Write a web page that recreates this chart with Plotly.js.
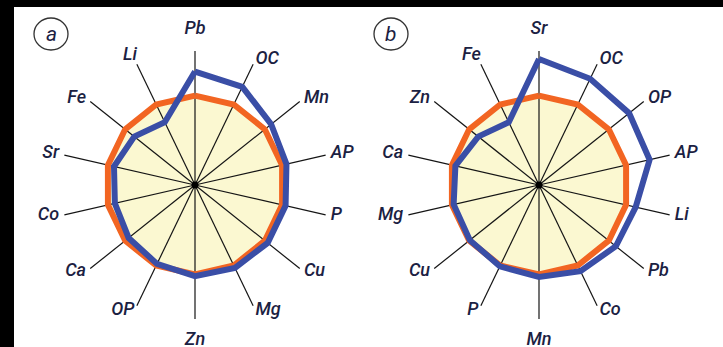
<!DOCTYPE html>
<html>
<head>
<meta charset="utf-8">
<script src="https://cdn.plot.ly/plotly-3.0.1.min.js"></script>
<style>
  html, body { margin: 0; padding: 0; background: #000; width: 723px; height: 347px; overflow: hidden; }
  #chart { position: absolute; left: 14px; top: 7px; width: 709px; height: 340px; background: #fff; }
</style>
</head>
<body>
<div id="chart"></div>
<script>
// Panel a: element axes, clockwise from the top
const elementsA = ['Pb', 'OC', 'Mn', 'AP', 'P', 'Cu', 'Mg', 'Zn', 'OP', 'Ca', 'Co', 'Sr', 'Fe', 'Li'];
const baselineA = [1, 1, 1, 1, 1, 1, 1, 1, 1, 1, 1, 1, 1, 1];
const sampleA   = [1.27, 1.22, 1.09, 1.05, 1.04, 1.04, 1.03, 1.02, 0.98, 0.95, 0.92, 0.93, 0.87, 0.78];

// Panel b: element axes, clockwise from the top
const elementsB = ['Sr', 'OC', 'OP', 'AP', 'Li', 'Pb', 'Co', 'Mn', 'P', 'Cu', 'Mg', 'Ca', 'Zn', 'Fe'];
const baselineB = [1, 1, 1, 1, 1, 1, 1, 1, 1, 1, 1, 1, 1, 1];
const sampleB   = [1.41, 1.32, 1.29, 1.27, 1.11, 1.10, 1.07, 1.03, 1.01, 0.99, 0.98, 0.96, 0.87, 0.78];

const panelLetters = ['a', 'b'];
const spokeLength = 1.5;
const radialMax = 1.8;

const W = 709, H = 340;
const ink = '#1b2142';
const labelFont = { family: 'Roboto, Liberation Sans, sans-serif', size: 18, color: ink, style: 'italic', weight: 500 };

const close = arr => arr.concat([arr[0]]);

// Axis names sit just past the spoke ends: above/below for the vertical spokes,
// to the outer side for the others.
function labelPosition(i, n) {
  const deg = i * 360 / n;
  if (deg === 0) return 'top center';
  if (deg === 180) return 'bottom center';
  if (deg < 180) return 'middle right';
  if (deg > 320) return 'top left';
  return 'middle left';
}
function labelRadius(i, n) {
  const deg = i * 360 / n;
  if (deg === 0 || deg === 180) return spokeLength + 0.14;
  if (deg > 320) return spokeLength;
  return spokeLength + 0.06;
}

function panelTraces(cats, base, sample, subplot) {
  const n = cats.length;
  const spokeR = [], spokeT = [];
  cats.forEach(c => { spokeR.push(0, spokeLength, null); spokeT.push(c, c, null); });
  const common = { type: 'scatterpolar', subplot: subplot, hoverinfo: 'skip', showlegend: false, cliponaxis: false };
  return [
    Object.assign({}, common, { r: close(base), theta: close(cats), mode: 'lines', fill: 'toself',
      fillcolor: '#fbf8d1', line: { color: 'rgba(0,0,0,0)', width: 0 } }),
    Object.assign({}, common, { r: spokeR, theta: spokeT, mode: 'lines', connectgaps: false,
      line: { color: '#151515', width: 1.2 } }),
    Object.assign({}, common, { r: close(base), theta: close(cats), mode: 'lines',
      line: { color: '#f26522', width: 6 } }),
    Object.assign({}, common, { r: close(sample), theta: close(cats), mode: 'lines',
      line: { color: '#3a4ea6', width: 6 } }),
    Object.assign({}, common, { r: [0], theta: [cats[0]], mode: 'markers',
      marker: { color: '#000', size: 7 } }),
    Object.assign({}, common, { r: cats.map((c, i) => labelRadius(i, n)), theta: cats, mode: 'text',
      text: cats, textposition: cats.map((c, i) => labelPosition(i, n)), textfont: labelFont })
  ];
}

// cx, cy: centre in px; R: pixel length of a spoke
function polarLayout(cats, cx, cy, R) {
  const D = R * radialMax / spokeLength;
  return {
    domain: { x: [(cx - D) / W, (cx + D) / W], y: [(H - cy - D) / H, (H - cy + D) / H] },
    bgcolor: 'rgba(0,0,0,0)',
    radialaxis: { visible: false, range: [0, radialMax] },
    angularaxis: {
      type: 'category', categoryorder: 'array', categoryarray: cats,
      direction: 'clockwise', rotation: 90,
      showgrid: false, showline: false, ticks: '', showticklabels: false
    }
  };
}

function badge(cx, cy, letter) {
  return {
    shape: { type: 'circle', xref: 'paper', yref: 'paper',
      x0: (cx - 17) / W, x1: (cx + 17) / W, y0: (H - cy - 16) / H, y1: (H - cy + 16) / H,
      line: { color: '#333', width: 1.3 } },
    ann: { xref: 'paper', yref: 'paper', x: cx / W, y: (H - cy) / H, showarrow: false,
      xanchor: 'center', yanchor: 'middle', text: letter,
      font: { family: 'Roboto, Liberation Sans, sans-serif', size: 21, color: ink, style: 'italic' } }
  };
}

const bA = badge(37, 27, panelLetters[0]);
const bB = badge(377, 27, panelLetters[1]);

const data = panelTraces(elementsA, baselineA, sampleA, 'polar')
  .concat(panelTraces(elementsB, baselineB, sampleB, 'polar2'));

const layout = {
  width: W, height: H,
  margin: { l: 0, r: 0, t: 0, b: 0 },
  paper_bgcolor: '#fff',
  showlegend: false,
  dragmode: false,
  polar: polarLayout(elementsA, 181, 178, 134),
  polar2: polarLayout(elementsB, 525, 178, 134),
  shapes: [bA.shape, bB.shape],
  annotations: [bA.ann, bB.ann]
};

Plotly.newPlot('chart', data, layout, { staticPlot: true, displayModeBar: false });
</script>
</body>
</html>
